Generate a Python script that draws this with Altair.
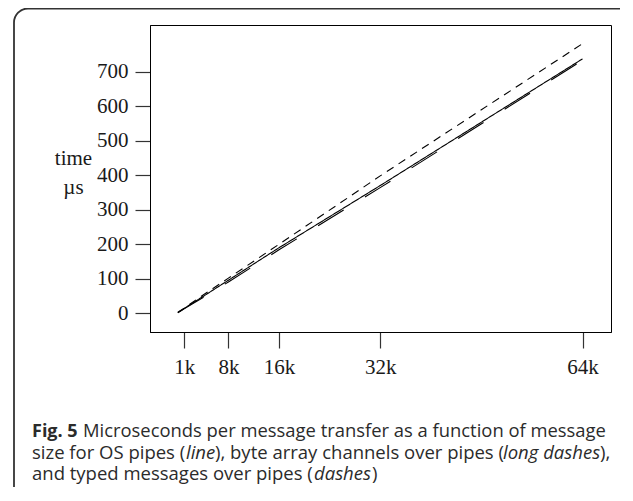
import altair as alt
import pandas as pd

# message sizes in k (1024 bytes)
sizes = [0, 1, 2, 4, 8, 16, 32, 64]
os_pipes = [2, 14, 26, 49, 96, 190, 370, 737]
byte_array = [2, 13, 24, 46, 91, 184, 364, 733]
typed_msgs = [3, 15, 28, 53, 102, 200, 398, 781]

series_names = ["OS pipes", "byte array channels over pipes", "typed messages over pipes"]
x_ticks = [1, 8, 16, 32, 64]
y_ticks = [0, 100, 200, 300, 400, 500, 600, 700]

rows = []
for name, vals in zip(series_names, [os_pipes, byte_array, typed_msgs]):
    for s, v in zip(sizes, vals):
        rows.append({"size": s, "time": v, "series": name})
df = pd.DataFrame(rows)

SERIF = "Liberation Serif"
SANS = "Open Sans"
CAP = "#2b2b2b"

lines = alt.Chart(df).mark_line(color="black", strokeWidth=1.1).encode(
    x=alt.X("size:Q",
            scale=alt.Scale(domain=[-4.4, 68.5], nice=False, zero=False),
            axis=alt.Axis(values=x_ticks, labelExpr="datum.value + 'k'",
                          title="msg size", titleY=373, titleBaseline="alphabetic",
                          tickSize=16, labelPadding=8, grid=False)),
    y=alt.Y("time:Q",
            scale=alt.Scale(domain=[-54, 835], nice=False, zero=False),
            axis=alt.Axis(values=y_ticks, title=["time", "µs"], titleAngle=0,
                          titleAlign="center", titleBaseline="middle",
                          titleX=-77, titleY=133, titleLineHeight=29,
                          tickSize=15, labelPadding=7, grid=False)),
    strokeDash=alt.StrokeDash("series:N",
                              scale=alt.Scale(domain=series_names,
                                              range=[[1, 0], [30, 25], [8, 6]]),
                              legend=None),
    order="size:Q",
)

one = alt.Data(values=[{}])

border = alt.Chart(one).mark_rect(filled=False, stroke="#333333", strokeWidth=1.8,
                                   cornerRadius=14, clip=False).encode(
    x=alt.value(-136), x2=alt.value(500), y=alt.value(-16.5), y2=alt.value(490)
)

def seg(text, xp, yp, style="normal", weight="normal", size=18.5):
    return alt.Chart(one).mark_text(
        align="left", baseline="alphabetic", font=SANS, fontSize=size,
        fontStyle=style, fontWeight=weight, color=CAP, clip=False
    ).encode(x=alt.value(xp - 150), y=alt.value(yp - 25), text=alt.value(text))

caption = [
    seg("Fig. 5", 32, 437, weight="bold", size=18),
    seg("Microseconds per message transfer as a function of message", 83, 437, size=18.4),
    seg("size for OS pipes (", 32, 458.5),
    seg("line", 186, 458.5, style="italic"),
    seg("), byte array channels over pipes (", 215, 458.5),
    seg("long dashes", 503, 458.5, style="italic"),
    seg("),", 600, 458.5),
    seg("and typed messages over pipes (", 32, 480),
    seg("dashes", 314, 480, style="italic"),
    seg(")", 372, 480),
]

chart = alt.layer(border, lines, *caption).properties(
    width=461, height=307,
    autosize=alt.AutoSizeParams(type="none"),
    padding={"left": 142, "top": 17, "right": 9, "bottom": 155},
).configure_view(
    stroke="black", strokeWidth=1
).configure_axis(
    labelFont=SERIF, labelFontSize=21, labelColor="#1a1a1a",
    titleFont=SERIF, titleFontSize=21, titleFontWeight="normal", titleColor="#1a1a1a",
    domainColor="black", domainWidth=1, tickColor="#333333", tickWidth=1.2,
)

chart.save("out.html", embed_options={"renderer": "svg", "actions": False})
